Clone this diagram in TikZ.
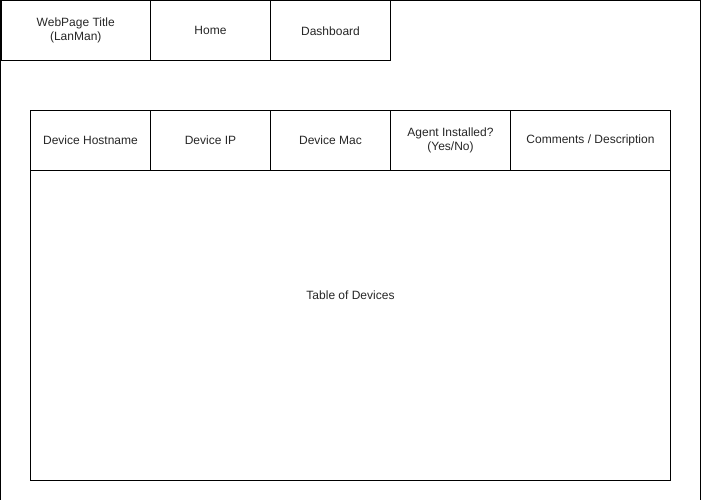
\documentclass[tikz,border=0pt]{standalone}
\usepackage{fontspec}
\setmainfont{Liberation Sans}
\begin{document}
\begin{tikzpicture}[x=1pt,y=-1pt,line width=1pt,
  cell/.style={draw=black,minimum width=#1,minimum height=60pt,inner sep=0pt,anchor=north west,align=center,font=\fontsize{12}{13.8}\selectfont,text=black!85}]
\useasboundingbox (0,0) rectangle (701,500);
\draw (0.5,0.5) rectangle (700,520);
\node[cell=149.5pt,minimum height=59.5pt] (title) at (0.5,0.5) {WebPage Title\\(LanMan)};
\node[cell=120pt,minimum height=59.5pt] (home) at (150,0.5) {Home};
\node[cell=120pt,minimum height=59.5pt] (dash) at (270,0.5) {Dashboard};
\node[cell=640pt,minimum height=370pt] (table) at (30,110) {Table of Devices};
\node[cell=120pt] (host) at (30,110) {Device Hostname};
\node[cell=120pt] (ip) at (150,110) {Device IP};
\node[cell=120pt] (mac) at (270,110) {Device Mac};
\node[cell=120pt] (agent) at (390,110) {Agent Installed?\\(Yes/No)};
\node[cell=160pt] (comm) at (510,110) {Comments / Description};
\end{tikzpicture}
\end{document}
